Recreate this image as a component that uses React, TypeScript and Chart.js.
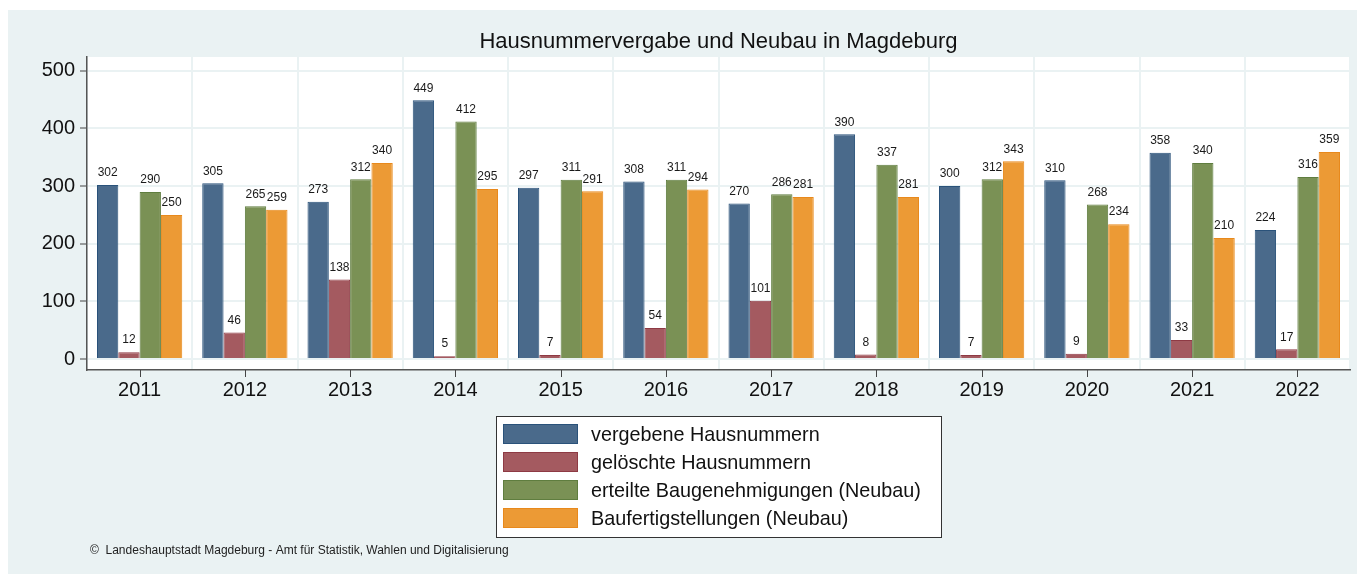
import React, { useEffect, useRef } from "react";
import { Chart, registerables } from "chart.js";

Chart.register(...registerables);

const years = ["2011", "2012", "2013", "2014", "2015", "2016", "2017", "2018", "2019", "2020", "2021", "2022"];
const vergebene = [302, 305, 273, 449, 297, 308, 270, 390, 300, 310, 358, 224];
const geloeschte = [12, 46, 138, 5, 7, 54, 101, 8, 7, 9, 33, 17];
const erteilte = [290, 265, 312, 412, 311, 311, 286, 337, 312, 268, 340, 316];
const baufertig = [250, 259, 340, 295, 291, 294, 281, 281, 343, 234, 210, 359];
const seriesLabels = [
  "vergebene Hausnummern",
  "gelöschte Hausnummern",
  "erteilte Baugenehmigungen (Neubau)",
  "Baufertigstellungen (Neubau)",
];
const yTicks = [0, 100, 200, 300, 400, 500];
const titleText = "Hausnummervergabe und Neubau in Magdeburg";
const footerText = "©  Landeshauptstadt Magdeburg - Amt für Statistik, Wahlen und Digitalisierung";

const FONT = "'Liberation Sans', Arial, Helvetica, sans-serif";
const BG = "#eaf2f3";
const fills = ["#4a6a8b", "#a45a60", "#7a9155", "#ec9a35"];
const borders = ["#2a527a", "#8e3a44", "#5f7d3f", "#e8891c"];

const decorPlugin = {
  id: "decor",
  beforeDraw(chart: any) {
    const { ctx, width, height, chartArea } = chart;
    ctx.save();
    ctx.fillStyle = BG;
    ctx.fillRect(0, 0, width, height);
    ctx.fillStyle = "#ffffff";
    ctx.fillRect(chartArea.left, chartArea.top, chartArea.right - chartArea.left, chartArea.bottom - chartArea.top);
    ctx.restore();
  },
  afterDatasetsDraw(chart: any) {
    const { ctx } = chart;
    ctx.save();
    ctx.font = `12px ${FONT}`;
    ctx.fillStyle = "#1a1a1a";
    ctx.textAlign = "center";
    ctx.textBaseline = "bottom";
    chart.data.datasets.forEach((ds: any, i: number) => {
      const meta = chart.getDatasetMeta(i);
      meta.data.forEach((bar: any, j: number) => {
        ctx.fillText(String(ds.data[j]), bar.x, bar.y - 6);
      });
    });
    ctx.restore();
  },
  afterDraw(chart: any) {
    const { ctx, chartArea } = chart;
    const xScale = chart.scales.x;
    ctx.save();
    // x tick marks at category centers
    ctx.strokeStyle = "#444";
    ctx.lineWidth = 1;
    years.forEach((_, i) => {
      const x = Math.round(xScale.getPixelForValue(i)) + 0.5;
      ctx.beginPath();
      ctx.moveTo(x, chartArea.bottom);
      ctx.lineTo(x, chartArea.bottom + 7);
      ctx.stroke();
    });
    // title
    ctx.fillStyle = "#111";
    ctx.font = `22px ${FONT}`;
    ctx.textAlign = "center";
    ctx.textBaseline = "middle";
    ctx.fillText(titleText, (chartArea.left + chartArea.right) / 2, 31.5);
    // legend
    const lx = 488, ly = 406, lw = 445, lh = 121;
    ctx.fillStyle = "#ffffff";
    ctx.fillRect(lx, ly, lw, lh);
    ctx.strokeStyle = "#333";
    ctx.lineWidth = 1;
    ctx.strokeRect(lx + 0.5, ly + 0.5, lw, lh);
    ctx.font = `19.8px ${FONT}`;
    ctx.textAlign = "left";
    ctx.textBaseline = "middle";
    seriesLabels.forEach((lab, i) => {
      const sy = 414 + i * 28;
      ctx.fillStyle = fills[i];
      ctx.fillRect(495, sy, 75, 20);
      ctx.strokeStyle = borders[i];
      ctx.strokeRect(495.5, sy + 0.5, 74, 19);
      ctx.fillStyle = "#111";
      ctx.fillText(lab, 583, sy + 12);
    });
    // footer
    ctx.font = `12px ${FONT}`;
    ctx.fillStyle = "#222";
    ctx.fillText(footerText, 82, 541);
    ctx.restore();
  },
};

export default function App() {
  const ref = useRef<HTMLCanvasElement>(null);
  useEffect(() => {
    if (!ref.current) return;
    const data = [vergebene, geloeschte, erteilte, baufertig];
    const chart = new Chart(ref.current, {
      type: "bar",
      data: {
        labels: years,
        datasets: data.map((d, i) => ({
          label: seriesLabels[i],
          data: d,
          backgroundColor: fills[i],
          borderColor: borders[i],
          borderWidth: 1,
          categoryPercentage: 0.81,
          barPercentage: 1,
        })),
      },
      options: {
        animation: false,
        responsive: false,
        maintainAspectRatio: false,
        layout: { padding: { left: 0, top: 47, right: 7, bottom: 164 } },
        plugins: { legend: { display: false }, tooltip: { enabled: false }, title: { display: false } },
        scales: {
          x: {
            grid: { color: BG, lineWidth: 2, offset: true, drawTicks: false },
            border: { color: "#555", width: 1.5 },
            ticks: { color: "#111", font: { family: FONT, size: 20 }, padding: 8 },
            afterFit(scale: any) {
              scale.height = 40;
            },
          },
          y: {
            min: -19,
            max: 524,
            afterBuildTicks(scale: any) {
              scale.ticks = yTicks.map((v) => ({ value: v }));
            },
            grid: { color: BG, lineWidth: 2, tickColor: "#444", tickLength: 7, tickWidth: 1 },
            border: { color: "#555", width: 1.5 },
            ticks: { color: "#111", font: { family: FONT, size: 20 }, padding: 5 },
            afterFit(scale: any) {
              scale.width = 79;
            },
          },
        },
      },
      plugins: [decorPlugin],
    });
    return () => chart.destroy();
  }, []);
  return (
    <div style={{ position: "fixed", left: 8, top: 10, width: 1349, height: 564 }}>
      <canvas ref={ref} width={1349} height={564} style={{ display: "block" }} />
    </div>
  );
}
